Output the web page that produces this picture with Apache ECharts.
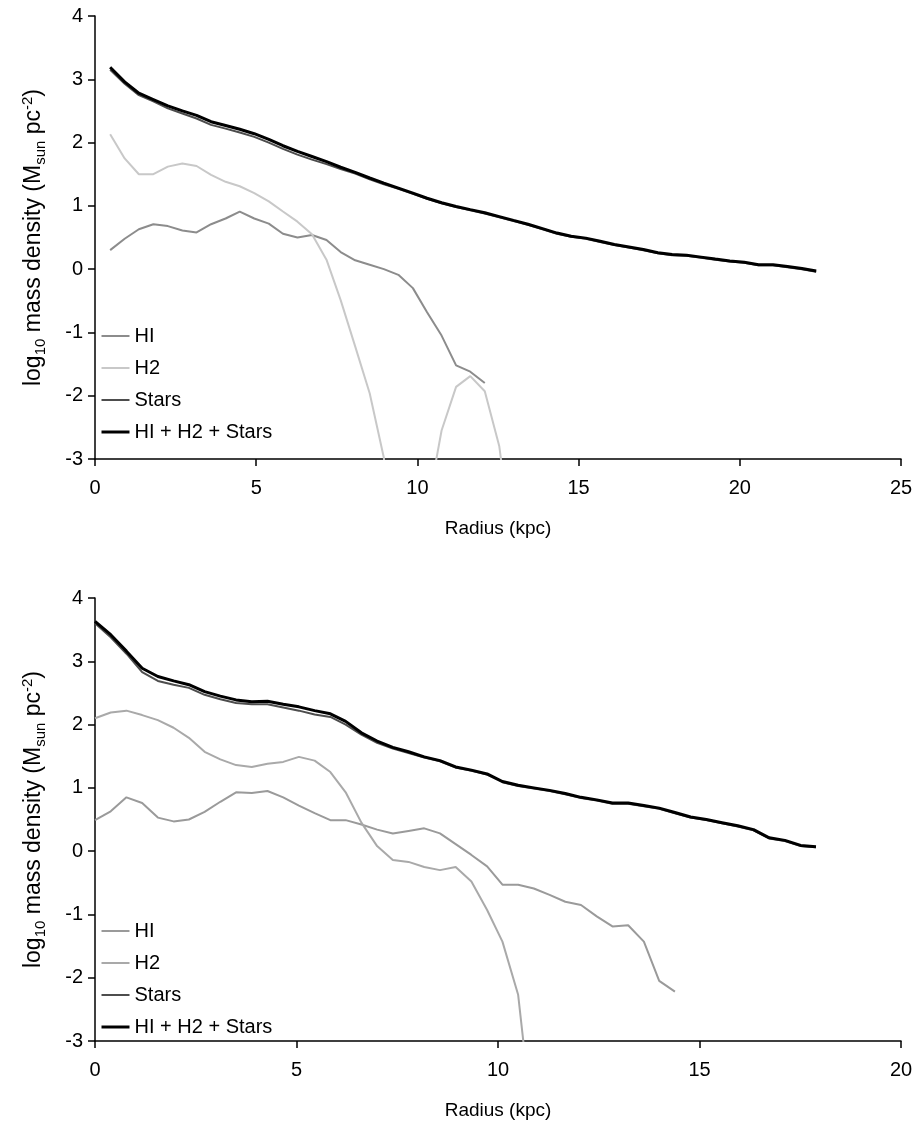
<!DOCTYPE html>
<html>
<head>
<meta charset="utf-8">
<script src="https://cdn.jsdelivr.net/npm/echarts@6/dist/echarts.min.js"></script>
<style>
html,body{margin:0;padding:0;background:#fff;}
#chart{width:922px;height:1141px;}
</style>
</head>
<body>
<div id="chart"></div>
<script>
// ---- Top panel data ----
const radiusTop = [0.47,0.92,1.36,1.81,2.26,2.71,3.15,3.60,4.05,4.49,4.94,5.39,5.83,6.28,6.73,7.18,7.62,8.07,8.52,8.96,9.41,9.86,10.30,10.75,11.20,11.64,12.09,12.54,12.98,13.43,13.88,14.33,14.77,15.22,15.67,16.11,16.56,17.01,17.46,17.90,18.35,18.80,19.24,19.69,20.14,20.58,21.03,21.48,21.93,22.37];
const hiTop = [0.30,0.48,0.63,0.71,0.68,0.61,0.58,0.71,0.80,0.91,0.80,0.72,0.56,0.50,0.54,0.46,0.27,0.14,0.07,0.00,-0.09,-0.30,-0.68,-1.05,-1.52,-1.62,-1.80];
const h2Top = [2.13,1.75,1.50,1.50,1.62,1.67,1.63,1.49,1.38,1.31,1.20,1.07,0.91,0.75,0.55,0.15,-0.49,-1.22,-1.96,-2.98,-6,-6,-3.8,-2.55,-1.86,-1.69,-1.93,-2.80,-4.5];
const starsTop = [3.15,2.93,2.75,2.65,2.54,2.46,2.38,2.28,2.22,2.16,2.09,2.00,1.90,1.81,1.73,1.66,1.58,1.51,1.42,1.34,1.27,1.19,1.11,1.04,0.98,0.93,0.88,0.82,0.76,0.70,0.63,0.56,0.51,0.48,0.43,0.38,0.34,0.30,0.25,0.22,0.21,0.18,0.15,0.12,0.10,0.06,0.06,0.03,0.00,-0.04];
const totalTop = [3.19,2.96,2.78,2.68,2.58,2.50,2.43,2.33,2.27,2.21,2.14,2.05,1.95,1.86,1.78,1.70,1.61,1.53,1.44,1.36,1.28,1.20,1.12,1.05,0.99,0.94,0.89,0.83,0.77,0.71,0.64,0.57,0.52,0.49,0.44,0.39,0.35,0.31,0.26,0.23,0.22,0.19,0.16,0.13,0.11,0.07,0.07,0.04,0.01,-0.03];

// ---- Bottom panel data ----
const radiusBottom = [0,0.39,0.78,1.17,1.56,1.95,2.33,2.72,3.11,3.50,3.89,4.28,4.67,5.06,5.45,5.84,6.22,6.61,7.00,7.39,7.78,8.17,8.56,8.95,9.34,9.73,10.11,10.50,10.89,11.28,11.67,12.06,12.45,12.84,13.23,13.62,14.00,14.39,14.78,15.17,15.56,15.95,16.34,16.73,17.12,17.51,17.89];
const hiBottom = [0.49,0.63,0.85,0.76,0.53,0.47,0.50,0.62,0.78,0.93,0.92,0.95,0.85,0.72,0.60,0.49,0.49,0.42,0.34,0.28,0.32,0.36,0.28,0.11,-0.06,-0.24,-0.53,-0.53,-0.59,-0.69,-0.80,-0.85,-1.03,-1.19,-1.17,-1.43,-2.05,-2.22];
const h2Bottom = [2.10,2.19,2.22,2.15,2.07,1.95,1.79,1.57,1.45,1.36,1.33,1.38,1.41,1.49,1.43,1.25,0.93,0.45,0.08,-0.14,-0.17,-0.25,-0.30,-0.25,-0.48,-0.93,-1.43,-2.27,-4.5];
const starsBottom = [3.60,3.38,3.12,2.83,2.69,2.63,2.58,2.47,2.40,2.34,2.32,2.32,2.27,2.22,2.16,2.12,2.00,1.84,1.71,1.62,1.55,1.48,1.42,1.32,1.27,1.21,1.09,1.03,0.99,0.95,0.90,0.84,0.80,0.75,0.75,0.71,0.67,0.60,0.53,0.49,0.44,0.39,0.33,0.20,0.16,0.08,0.06];
const totalBottom = [3.63,3.42,3.16,2.89,2.76,2.69,2.63,2.52,2.45,2.39,2.36,2.37,2.32,2.28,2.22,2.17,2.05,1.87,1.74,1.64,1.57,1.49,1.43,1.33,1.28,1.22,1.10,1.04,1.00,0.96,0.91,0.85,0.81,0.76,0.76,0.72,0.68,0.61,0.54,0.50,0.45,0.40,0.34,0.21,0.17,0.09,0.07];

const seriesNames = ['HI','H2','Stars','HI + H2 + Stars'];
const xTitle = 'Radius (kpc)';
const yTitle = '{n|log}{s|10}{n| mass density (M}{s|sun}{n| pc}{p|-2}{n|)}';

const FONT = 'Liberation Sans, Arial, Helvetica, sans-serif';
const colorsTop = ['#8c8c8c','#c8c8c8','#4d4d4d','#000000'];
const colorsBottom = ['#9a9a9a','#a9a9a9','#4d4d4d','#000000'];
const widths = [2,2,2,3];

function pairs(r, v){ return v.map((y,i)=>[r[i], y]); }

function xAxisCfg(gi, max){
  return {
    type:'value', gridIndex:gi, min:0, max:max, interval:5,
    name:xTitle, nameLocation:'middle', nameGap:60,
    nameTextStyle:{fontFamily:FONT, fontSize:19, color:'#000'},
    axisLine:{onZero:false, lineStyle:{color:'#000', width:1.5}},
    axisTick:{inside:false, length:7, lineStyle:{color:'#000', width:1.5}},
    axisLabel:{fontFamily:FONT, fontSize:20, color:'#000', margin:19},
    splitLine:{show:false}
  };
}
function yAxisCfg(gi){
  return {
    type:'value', gridIndex:gi, min:-3, max:4, interval:1,
    name:yTitle, nameLocation:'middle', nameGap:47, nameRotate:90,
    nameTextStyle:{fontFamily:FONT, color:'#000',
      rich:{
        n:{fontFamily:FONT, fontSize:23, color:'#000', lineHeight:28},
        s:{fontFamily:FONT, fontSize:15, color:'#000', lineHeight:15, verticalAlign:'bottom'},
        p:{fontFamily:FONT, fontSize:15, color:'#000', lineHeight:15, verticalAlign:'top'}
      }},
    axisLine:{onZero:false, lineStyle:{color:'#000', width:1.5}},
    axisTick:{inside:false, length:7, lineStyle:{color:'#000', width:1.5}},
    axisLabel:{fontFamily:FONT, fontSize:20, color:'#000', margin:12},
    splitLine:{show:false}
  };
}

const topSets = [hiTop, h2Top, starsTop, totalTop];
const bottomSets = [hiBottom, h2Bottom, starsBottom, totalBottom];

const series = [];
topSets.forEach((d,i)=>{
  series.push({name:seriesNames[i], type:'line', xAxisIndex:0, yAxisIndex:0,
    data:pairs(radiusTop, d), symbol:'none', clip:true, silent:true,
    lineStyle:{color:colorsTop[i], width:widths[i]}, itemStyle:{color:colorsTop[i]}, z:2+i});
});
bottomSets.forEach((d,i)=>{
  series.push({name:seriesNames[i], type:'line', xAxisIndex:1, yAxisIndex:1,
    data:pairs(radiusBottom, d), symbol:'none', clip:true, silent:true,
    lineStyle:{color:colorsBottom[i], width:widths[i]}, itemStyle:{color:colorsBottom[i]}, z:2+i});
});

function legendCfg(top, colors){
  return {
    orient:'vertical', left:95, top:top, itemWidth:28, itemHeight:20, itemGap:12,
    selectedMode:false,
    textStyle:{fontFamily:FONT, fontSize:20, color:'#000', lineHeight:20},
    data: seriesNames.map((n,i)=>({name:n,
      itemStyle:{color:'rgba(0,0,0,0)', opacity:0, borderWidth:0},
      lineStyle:{color:colors[i], width:widths[i]}}))
  };
}

const chart = echarts.init(document.getElementById('chart'), null, {renderer:'canvas'});
chart.setOption({
  animation:false,
  backgroundColor:'#fff',
  grid:[
    {left:95, top:16, width:806, height:443},
    {left:95, top:598, width:806, height:443}
  ],
  xAxis:[xAxisCfg(0,25), xAxisCfg(1,20)],
  yAxis:[yAxisCfg(0), yAxisCfg(1)],
  legend:[legendCfg(321, colorsTop), legendCfg(916, colorsBottom)],
  series:series
});
</script>
</body>
</html>
